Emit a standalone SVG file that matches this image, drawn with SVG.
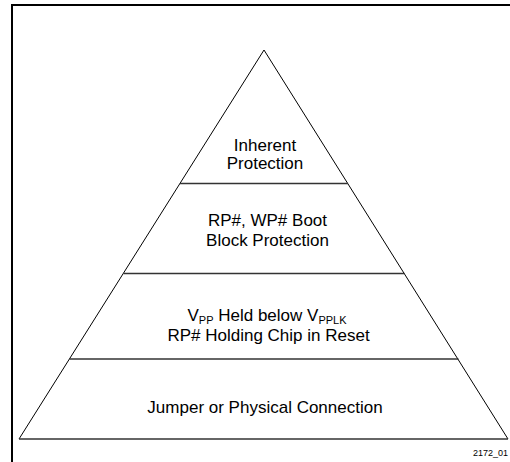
<svg xmlns="http://www.w3.org/2000/svg" width="510" height="462" viewBox="0 0 510 462">
<style>
.t{font-family:"Liberation Sans",Arial,sans-serif;font-size:17px;fill:#000;text-anchor:middle}
.sub{font-size:11px}
.side{fill:none;stroke:#000;stroke-width:1}
.div{stroke:#333;stroke-width:1.5}
.frame{fill:none;stroke:#000;stroke-width:2}
</style>
<rect width="510" height="462" fill="#fff"/>
<path class="frame" d="M12,462 V5 H510"/>
<g id="pyramid">
<path class="side" d="M19,439 L264,50 L508,439"/>
<line class="div" x1="19" y1="439" x2="508" y2="439"/>
<line class="div" x1="180" y1="183.5" x2="348" y2="183.5"/>
<line class="div" x1="123.5" y1="273.5" x2="404.5" y2="273.5"/>
<line class="div" x1="69.5" y1="359" x2="458.5" y2="359"/>
</g>
<g id="connectors"></g>
<g id="tier1">
<text class="t" x="265" y="151">Inherent</text>
<text class="t" x="265" y="169">Protection</text>
</g>
<g id="tier2">
<text class="t" x="267.5" y="226">RP#, WP# Boot</text>
<text class="t" x="267.5" y="246">Block Protection</text>
</g>
<g id="tier3">
<text class="t" x="267" y="321">V<tspan class="sub" dy="3">PP</tspan><tspan dy="-3"> Held below V</tspan><tspan class="sub" dy="3">PPLK</tspan></text>
<text class="t" x="268.5" y="341">RP# Holding Chip in Reset</text>
</g>
<g id="tier4">
<text class="t" x="265" y="413">Jumper or Physical Connection</text>
</g>
<text x="508" y="456" style="font-family:'Liberation Sans',Arial,sans-serif;font-size:9px;text-anchor:end">2172_01</text>
</svg>
